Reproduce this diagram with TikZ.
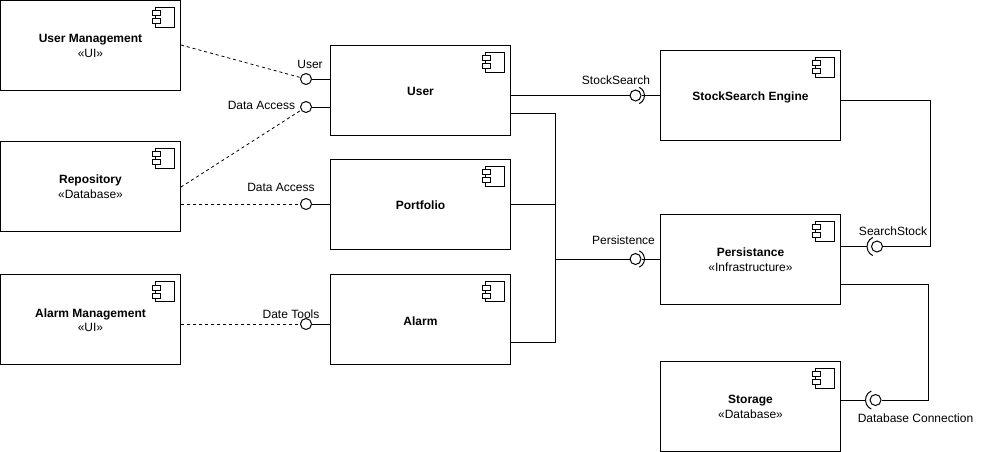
\documentclass[tikz,border=0pt]{standalone}
\usepackage{fontspec}
\setmainfont{Liberation Sans}
\usepackage{xcolor}
\usetikzlibrary{calc}
\newcommand{\comptitle}[1]{\rule[-3pt]{0pt}{17pt}\textbf{#1}}
\newcommand{\comphead}[1]{\rule{0pt}{10pt}\textbf{#1}}
\tikzset{
  comp/.style={draw,line width=1pt,minimum width=180pt,minimum height=90pt,align=center,inner sep=0pt,
    font=\fontsize{12}{14.5}\selectfont,
    path picture={
      \coordinate (corner) at (path picture bounding box.north east);
      \draw[line width=1pt] ($(corner)+(-25,7)$) rectangle ($(corner)+(-6.5,27)$);
      \draw[line width=1pt,fill=white] ($(corner)+(-28,10.5)$) rectangle ($(corner)+(-20,15.5)$);
      \draw[line width=1pt,fill=white] ($(corner)+(-28,18.5)$) rectangle ($(corner)+(-20,23.5)$);
    }},
  lollipop/.style={draw,circle,line width=1pt,minimum size=11pt,inner sep=0pt},
  link/.style={line width=1pt},
  dep/.style={line width=0.8pt,dash pattern=on 3pt off 3pt},
  tag/.style={font=\fontsize{12}{14}\selectfont,inner sep=0pt}
}
\begin{document}
\begin{tikzpicture}[x=1pt,y=-1pt]
\useasboundingbox (0,0) rectangle (987,451);
% Left column
\node[comp] (usermgmt) at (90.5,45) {\comphead{User Management}\\«UI»};
\node[comp] (repo) at (90.5,186) {\comphead{Repository}\\«Database»};
\node[comp] (alarmmgmt) at (90.5,319.5) {\comphead{Alarm Management}\\«UI»};

% Middle column
\node[comp] (user) at (420.5,90) {\comptitle{User}};
\node[comp] (portfolio) at (420.5,204) {\comptitle{Portfolio}};
\node[comp] (alarm) at (420.5,319.5) {\comptitle{Alarm}};

% Right column
\node[comp] (engine) at (750.5,95) {\comptitle{StockSearch Engine}};
\node[comp] (persist) at (750.5,259) {\comphead{Persistance}\\«Infrastructure»};
\node[comp] (storage) at (750.5,406) {\comphead{Storage}\\«Database»};

% Provided interfaces
\node[lollipop] (userball) at (306,79) {};
\node[lollipop] (accessball) at (306,107) {};
\node[lollipop] (portball) at (306,204) {};
\node[lollipop] (toolsball) at (306,324) {};
\node[lollipop] (stockball) at (635.5,95.5) {};
\node[lollipop] (persistball) at (635.5,259) {};
\node[lollipop] (searchball) at (877,246.5) {};
\node[lollipop] (dbball) at (875.5,400) {};

% Required sockets
\draw[link] (stockball.center) ++(-65:9pt) arc (-65:65:9pt);
\draw[link] (persistball.center) ++(-65:9pt) arc (-65:65:9pt);
\draw[link] (searchball.center) ++(115:10pt) arc (115:245:10pt);
\draw[link] (dbball.center) ++(115:10pt) arc (115:245:10pt);

% Solid connectors
\draw[link] (userball) -- (userball -| user.west);
\draw[link] (accessball) -- (accessball -| user.west);
\draw[link] (portball) -- (portfolio.west);
\draw[link] (toolsball) -- (toolsball -| alarm.west);
\draw[link] (stockball -| user.east) -- (stockball);
\draw[link] (stockball) -- (stockball -| engine.west);
\draw[link] (persistball) -- (persist.west);
\coordinate (bustop) at (555,113);
\coordinate (busbot) at (555,342);
\coordinate (busmid) at (555,259);
\draw[link] (bustop -| user.east) -- (bustop) -- (busbot) -- (busbot -| alarm.east);
\draw[link] (portfolio.east) -- (portfolio.east -| bustop);
\draw[link] (busmid) -- (persistball);
\coordinate (searchup) at (930,100);
\draw[link] (searchup -| engine.east) -- (searchup) -- (searchup |- searchball) -- (searchball);
\draw[link] (searchball -| persist.east) -- ([xshift=-4.5pt]searchball.west);
\coordinate (dbup) at (928,284);
\draw[link] (dbup -| persist.east) -- (dbup) -- (dbup |- dbball) -- (dbball);
\draw[link] (dbball -| storage.east) -- ([xshift=-4.5pt]dbball.west);

% Dashed dependencies
\draw[dep] (usermgmt.east) -- (userball);
\draw[dep] ([yshift=-1pt]repo.east) -- (accessball);
\draw[dep] (portball -| repo.east) -- (portball);
\draw[dep] (toolsball -| alarmmgmt.east) -- (toolsball);

% Labels
\node[tag] (usertag) at (310,64) {User};
\node[tag] (accesstag) at (261.5,105) {Data Access};
\node[tag] (porttag) at (281,187) {Data Access};
\node[tag] (toolstag) at (291,314) {Date Tools};
\node[tag] (stocktag) at (616,80) {StockSearch};
\node[tag] (persisttag) at (623.5,240) {Persistence};
\node[tag] (searchtag) at (893,231) {SearchStock};
\node[tag] (dbtag) at (915.5,418) {Database Connection};
\end{tikzpicture}
\end{document}
